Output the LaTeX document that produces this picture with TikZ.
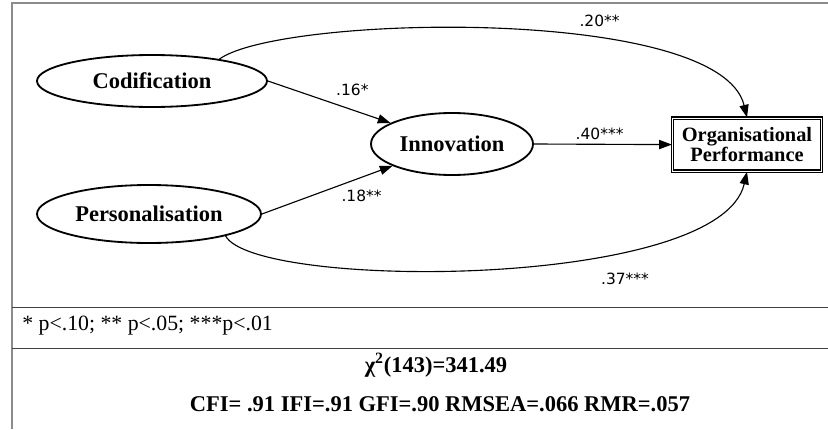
\documentclass[tikz,border=0pt]{standalone}
\usepackage{fontspec}
\setmainfont{Liberation Serif}
\newfontfamily\coeffont{DejaVu Sans}
\usetikzlibrary{shapes.geometric,arrows.meta}
\tikzset{
	latent/.style={ellipse, draw, line width=1.3pt, inner sep=0pt, font=\bfseries\fontsize{16}{16}\selectfont},
	outcome/.style={rectangle, draw, double, line width=0.9pt, double distance=0.7pt, inner sep=0pt, align=center, font=\bfseries\fontsize{14.5}{14.5}\selectfont},
	effect/.style={line width=0.8pt, -{Triangle[length=9pt,width=6.5pt]}},
	coef/.style={font=\coeffont\fontsize{11}{11}\selectfont, inner sep=0pt},
	frameline/.style={draw=black!45, line width=1.3pt},
	divider/.style={draw=black!75, line width=0.7pt},
	fit/.style={font=\bfseries\fontsize{16}{16}\selectfont, inner sep=0pt, anchor=base}
}

\begin{document}
\begin{tikzpicture}
				\useasboundingbox (0,0) rectangle (20.7,10.725);
				\fill[white] (0,0) rectangle (20.7,10.725);
				
				\draw[frameline] (0.3,0) -- (0.3,10.65) -- (20.7,10.65);
				\draw[divider] (0.3,3.04) -- (20.7,3.04);
				\draw[divider] (0.3,2.01) -- (20.7,2.01);
				
				\node[latent, minimum width=5.75cm, minimum height=1.3cm] (cod) at (3.8,8.7) {Codification};
				\node[latent, minimum width=5.6cm, minimum height=1.45cm] (per) at (3.725,5.375) {Personalisation};
				\node[latent, minimum width=4.05cm, minimum height=1.55cm] (inn) at (11.3,7.125) {Innovation};
				\node[outcome, minimum width=3.725cm, minimum height=1.325cm] (perf) at (18.675,7.11) {Organisational\\Performance};
				
				\draw[effect] (cod.east) -- (inn);
				\draw[effect] (per.east) -- (inn);
				\draw[effect] (inn.east) -- (perf.west);
				\draw[effect] (cod.18) .. controls (7.0,10.35) and (18.0,10.6) .. (perf.north);
				\draw[effect] (per.-16) .. controls (6.375,3.475) and (18.0,3.475) .. (perf.south);
				
				\node[coef] (c16) at (8.81,8.475) {.16*};
				\node[coef] (c18) at (9.04,5.825) {.18**};
				\node[coef] (c40) at (14.99,7.375) {.40***};
				\node[coef] (c20) at (14.99,10.2) {.20**};
				\node[coef] (c37) at (15.625,3.75) {.37***};
				
				\node[anchor=base west, inner sep=0pt, font=\fontsize{15.5}{15.5}\selectfont] (note) at (0.55,2.475) {* p<.10; ** p<.05; ***p<.01};
				\node[fit] (chisq) at (10.9,1.41) {χ\textsuperscript{2}(143)=341.49};
				\node[fit] (indices) at (11.0,0.43) {CFI= .91 IFI=.91 GFI=.90 RMSEA=.066 RMR=.057};
			\end{tikzpicture}
\end{document}
